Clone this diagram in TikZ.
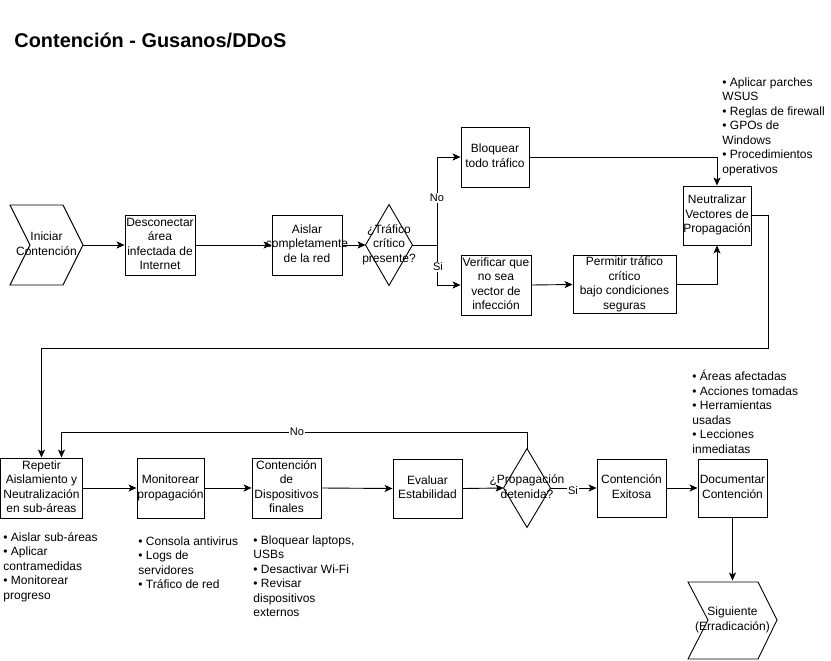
\documentclass[tikz,border=0pt]{standalone}
\usepackage{fontspec}
\setmainfont{Liberation Sans}
\usetikzlibrary{arrows.meta}
\newcommand{\mlines}[1]{\makebox[0pt]{\begin{tabular}{@{}c@{}}#1\end{tabular}}}
\begin{document}
\begin{tikzpicture}[x=1pt,y=-1pt,
  font=\fontsize{12}{14.5}\selectfont,
  line width=0.9pt,
  box/.style 2 args={draw, minimum width=#1, minimum height=#2, inner sep=0pt},
  shp/.style 2 args={minimum width=#1, minimum height=#2, inner sep=0pt},
  arr/.style={-{Stealth[length=8pt,width=7pt,inset=2pt]}},
  lbl/.style={fill=white, inner sep=1pt, font=\fontsize{11}{13}\selectfont},
  bul/.style={anchor=north west, align=left, inner sep=0pt}]
\useasboundingbox[fill=white] (0,0) rectangle (831,661);

% title
\node[anchor=west, inner sep=0pt, font=\bfseries\fontsize{19.9}{24}\selectfont] (title) at (14,40) {Contención - Gusanos/DDoS};

% start chevron
\draw (10,205) -- (63,205) -- (83,245) -- (63,285) -- (10,285) -- (30,245) -- cycle;
\node[shp={73}{80}] (ini) at (46.5,245) {\mlines{Iniciar\\Contención}};

% top row
\node[box={70}{60}] (desc) at (160,245) {\mlines{Desconectar\\área\\infectada de\\Internet}};
\node[box={70}{60}] (aisl) at (307,245) {\mlines{Aislar\\completamente\\de la red}};
\node[shp={46}{80}] (d1) at (389,245) {\mlines{¿Tráfico\\crítico\\presente?}};
\draw (d1.north) -- (d1.east) -- (d1.south) -- (d1.west) -- cycle;
\node[box={68}{60}] (bloq) at (495,157) {\mlines{Bloquear\\todo tráfico}};
\node[box={70}{60}] (verif) at (496,285) {\mlines{Verificar que\\no sea\\vector de\\infección}};
\node[box={103}{57}] (perm) at (624.5,284.5) {\mlines{Permitir tráfico\\crítico\\bajo condiciones\\seguras}};
\node[box={68}{59}] (neut) at (717,215.5) {\mlines{Neutralizar\\Vectores de\\Propagación}};

\node[bul] (bneut) at (722,77) {• Aplicar parches\\WSUS\\• Reglas de firewall\\• GPOs de\\Windows\\• Procedimientos\\operativos};

% bottom row
\node[box={82}{60}] (rep) at (41.5,488) {\mlines{Repetir\\Aislamiento y\\Neutralización\\en sub-áreas}};
\node[box={67}{60}] (mon) at (170.5,488) {\mlines{Monitorear\\propagación}};
\node[box={69}{60}] (cont) at (286.5,488) {\mlines{Contención\\de\\Dispositivos\\finales}};
\node[box={69}{59}] (eval) at (427.5,488.5) {\mlines{Evaluar\\Estabilidad}};
\node[shp={46}{78}] (d2) at (527,488) {\mlines{¿Propagación\\detenida?}};
\draw (d2.north) -- (d2.east) -- (d2.south) -- (d2.west) -- cycle;
\node[box={69}{58}] (exit) at (631.5,488) {\mlines{Contención\\Exitosa}};
\node[box={69}{58}] (doc) at (732.5,488) {\mlines{Documentar\\Contención}};

\draw (688,582) -- (758,582) -- (777,620) -- (758,659) -- (688,659) -- (708,620) -- cycle;
\node[shp={89}{78}] (sig) at (732.5,620) {\mlines{Siguiente\\(Erradicación)}};

\node[bul] (bdoc) at (692,370) {• Áreas afectadas\\• Acciones tomadas\\• Herramientas\\usadas\\• Lecciones\\inmediatas};
\node[bul] (brep) at (3,532) {• Aislar sub-áreas\\• Aplicar\\contramedidas\\• Monitorear\\progreso};
\node[bul] (bmon) at (138,536) {• Consola antivirus\\• Logs de\\servidores\\• Tráfico de red};
\node[bul] (bcont) at (253,535) {• Bloquear laptops,\\USBs\\• Desactivar Wi-Fi\\• Revisar\\dispositivos\\externos};

% connectors
\draw[arr] (ini.east) -- (desc.west);
\draw[arr] (desc.east) -- (aisl.west);
\draw[arr] (aisl.east) -- (d1.west);
\coordinate (br) at (437,245);
\draw (d1.east) -- (br);
\draw[arr] (br) |- (bloq.west);
\draw[arr] (br) |- (verif.west);
\node[lbl] (lno1) at (437,198) {No};
\node[lbl] (lsi1) at (438,267) {Si};
\draw[arr] (verif.east) -- (perm.west);
\draw[arr] (bloq.east) -| (neut.north);
\draw[arr] (perm.east) -| (neut.south);
\coordinate (r1) at (768,348);
\draw[arr] (neut.east) -| (r1) -| (rep.north);

\draw[arr] (rep.east) -- (mon.west);
\draw[arr] (mon.east) -- (cont.west);
\draw[arr] (cont.east) -- (eval.west);
\draw[arr] (eval.east) -- (d2.west);
\draw[arr] (d2.east) -- (exit.west);
\node[lbl] (lsi2) at (573,491) {Si};
\coordinate (r2) at (527,432);
\draw[arr] (d2.north) -- (r2) -| ([xshift=20pt]rep.north);
\node[lbl] (lno2) at (297,432) {No};
\draw[arr] (exit.east) -- (doc.west);
\draw[arr] (doc.south) -- (sig.north);
\end{tikzpicture}
\end{document}
